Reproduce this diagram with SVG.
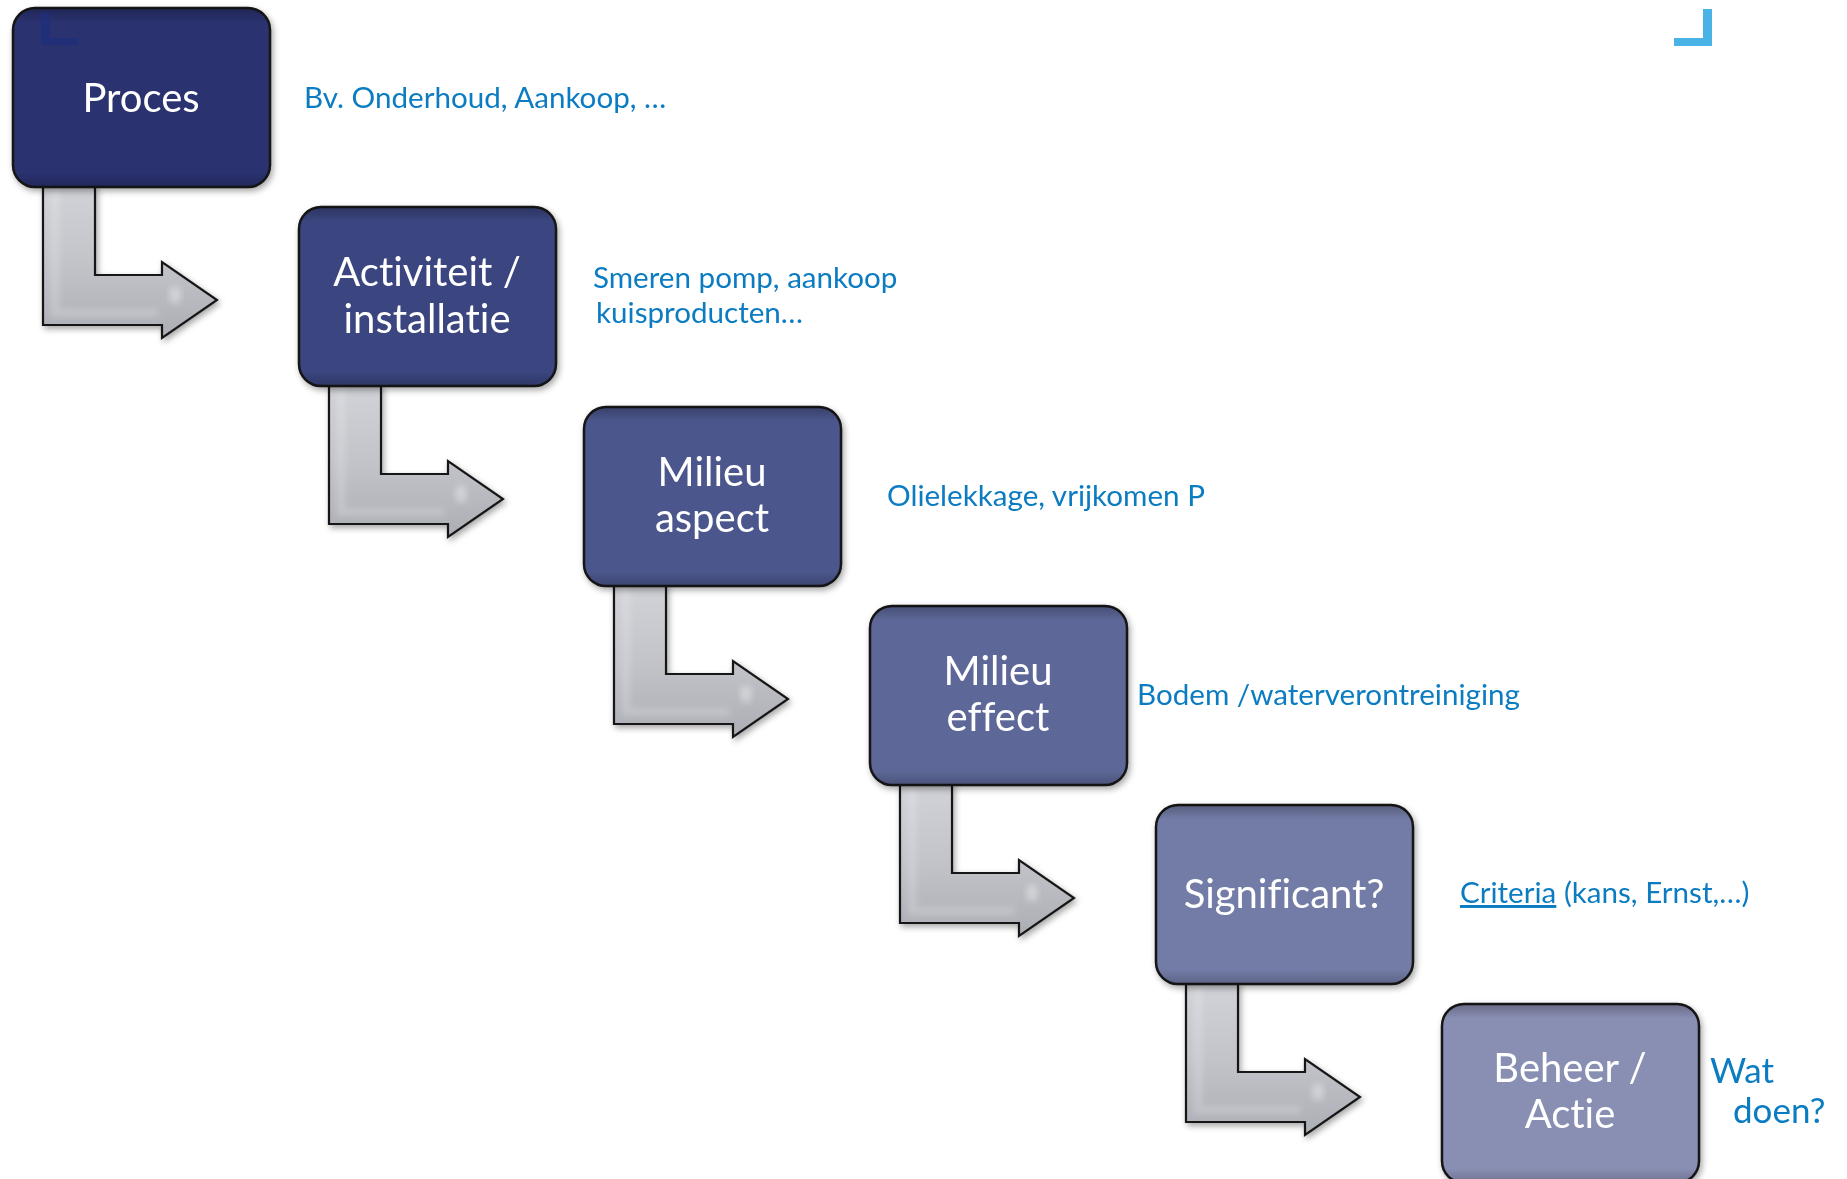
<svg xmlns="http://www.w3.org/2000/svg" width="1847" height="1179" viewBox="0 0 1847 1179">
<style>
.box{stroke:#151515;stroke-width:2.5}
.hl{stroke:#ffffff;stroke-width:4;stroke-linecap:round;opacity:0.85;fill:none}
.lbl{font-family:Lato,"Open Sans","Liberation Sans",sans-serif;font-size:40px;fill:#ffffff;text-anchor:middle;font-variant-ligatures:none;font-feature-settings:"liga" 0,"clig" 0}
.note{font-family:Lato,"Open Sans","Liberation Sans",sans-serif;font-size:29.6px;fill:#0b7cc2;font-variant-ligatures:none;font-feature-settings:"liga" 0,"clig" 0}
.arrow{fill:url(#ag);stroke:#161616;stroke-width:2.2;stroke-linejoin:miter}
</style>
<defs>
<linearGradient id="ag" x1="0" y1="0" x2="0" y2="1">
<stop offset="0" stop-color="#d2d3d8"/>
<stop offset="0.5" stop-color="#c3c4ca"/>
<stop offset="1" stop-color="#acaeb5"/>
</linearGradient>
<linearGradient id="shade" x1="0" y1="0" x2="0" y2="1">
<stop offset="0" stop-color="#000" stop-opacity="0.25"/>
<stop offset="0.08" stop-color="#000" stop-opacity="0"/>
<stop offset="0.92" stop-color="#000" stop-opacity="0"/>
<stop offset="1" stop-color="#000" stop-opacity="0.2"/>
</linearGradient>
<filter id="sh" x="-10%" y="-10%" width="125%" height="130%">
<feDropShadow dx="2" dy="3" stdDeviation="3" flood-color="#000" flood-opacity="0.35"/>
</filter>
<filter id="bl" x="-50%" y="-10%" width="200%" height="120%">
<feGaussianBlur stdDeviation="0.7"/>
</filter>
<filter id="bl2" x="-20%" y="-20%" width="140%" height="140%">
<feGaussianBlur stdDeviation="3"/>
</filter>
<g id="arrowShape">
<path class="arrow" d="M30,178 L82,178 L82,267 L149,267 L149,254 L204,292 L149,330 L149,317 L30,317 Z"/>
<path d="M42,182 L42,305 L145,305" fill="none" stroke="#fff" stroke-opacity="0.2" stroke-width="8" filter="url(#bl2)"/>
<ellipse cx="162" cy="287" rx="6" ry="9" fill="#fff" opacity="0.35" filter="url(#bl2)"/>
</g>
<g id="gloss">
<rect x="0" y="0" width="257" height="179" rx="22" fill="url(#shade)"/>
<line class="hl" x1="9" y1="28" x2="9" y2="152" filter="url(#bl)"/>
<line class="hl" x1="248" y1="40" x2="248" y2="150" filter="url(#bl)"/>
</g>
</defs>
<rect width="1847" height="1179" fill="#ffffff"/>

<g id="connectors" filter="url(#sh)">
<use href="#arrowShape" transform="translate(13,8)"/>
<use href="#arrowShape" transform="translate(299,207)"/>
<use href="#arrowShape" transform="translate(584,407)"/>
<use href="#arrowShape" transform="translate(870,606)"/>
<use href="#arrowShape" transform="translate(1156,805)"/>
</g>

<g id="node-proces">
<rect class="box" x="13" y="8" width="257" height="179" rx="22" fill="#29336f" filter="url(#sh)"/>
<use href="#gloss" transform="translate(13,8)"/>
<path d="M41,13 L50,13 L50,38 L78,38 L78,45 L41,45 Z" fill="#1f2e7c" opacity="0.8"/>
<text class="lbl" x="141" y="112">Proces</text>
</g>

<g id="node-activiteit">
<rect class="box" x="299" y="207" width="257" height="179" rx="22" fill="#3a457f" filter="url(#sh)"/>
<use href="#gloss" transform="translate(299,207)"/>
<text class="lbl" x="427" y="286">Activiteit /</text>
<text class="lbl" x="427" y="333">installatie</text>
</g>

<g id="node-milieu-aspect">
<rect class="box" x="584" y="407" width="257" height="179" rx="22" fill="#4b568c" filter="url(#sh)"/>
<use href="#gloss" transform="translate(584,407)"/>
<text class="lbl" x="712" y="486">Milieu</text>
<text class="lbl" x="712" y="532">aspect</text>
</g>

<g id="node-milieu-effect">
<rect class="box" x="870" y="606" width="257" height="179" rx="22" fill="#5d6798" filter="url(#sh)"/>
<use href="#gloss" transform="translate(870,606)"/>
<text class="lbl" x="998" y="685">Milieu</text>
<text class="lbl" x="998" y="731">effect</text>
</g>

<g id="node-significant">
<rect class="box" x="1156" y="805" width="257" height="179" rx="22" fill="#737ba6" filter="url(#sh)"/>
<use href="#gloss" transform="translate(1156,805)"/>
<text class="lbl" x="1284" y="908">Significant?</text>
</g>

<g id="node-beheer">
<rect class="box" x="1442" y="1004" width="257" height="179" rx="22" fill="#898eb3" filter="url(#sh)"/>
<use href="#gloss" transform="translate(1442,1004)"/>
<text class="lbl" x="1570" y="1082">Beheer /</text>
<text class="lbl" x="1570" y="1128">Actie</text>
</g>

<g id="notes">
<text class="note" x="304" y="108">Bv. Onderhoud, Aankoop, …</text>
<text class="note" x="593" y="288">Smeren pomp, aankoop</text>
<text class="note" x="596" y="323">kuisproducten…</text>
<text class="note" x="887" y="506">Olielekkage, vrijkomen P</text>
<text class="note" x="1137" y="705">Bodem /waterverontreiniging</text>
<text class="note" x="1460" y="903"><tspan text-decoration="underline">Criteria</tspan> (kans, Ernst,…)</text>
<text class="note" x="1710" y="1083" style="font-size:35px">Wat</text>
<text class="note" x="1733" y="1123" style="font-size:35px">doen?</text>
</g>

<path id="corner-mark" d="M1703,9 L1712,9 L1712,46 L1674,46 L1674,38 L1703,38 Z" fill="#4ab3e6"/>
</svg>
